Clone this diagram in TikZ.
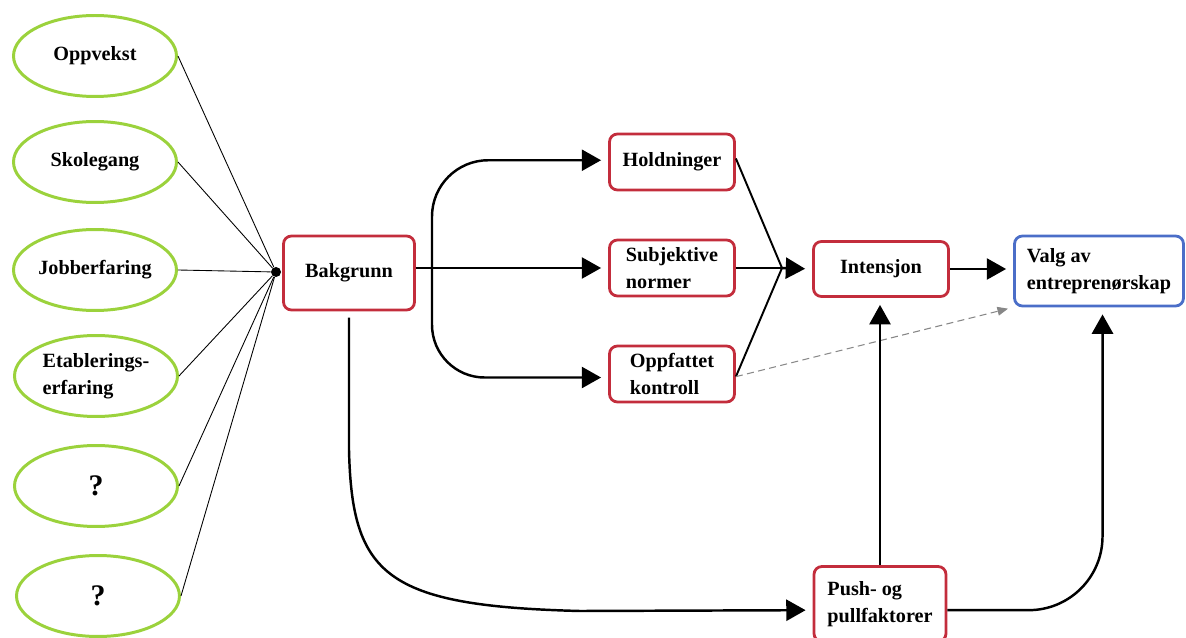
\documentclass[tikz,border=0pt]{standalone}
\usepackage{fontspec}
\setmainfont{Liberation Serif}
\usetikzlibrary{arrows.meta,shapes.geometric}
\definecolor{G}{RGB}{155, 210, 60}
\definecolor{R}{RGB}{195, 45, 60}
\definecolor{B}{RGB}{75, 110, 200}
\definecolor{Gr}{RGB}{135, 135, 135}
\tikzset{
  txt/.style={font=\fontsize{11.5}{15.3}\selectfont\bfseries, align=left},
  faktor/.style={ellipse, draw=G, line width=1.7pt, minimum width=3.26cm, minimum height=1.62cm, inner sep=0pt, txt},
  boks/.style={rectangle, rounded corners=4.5pt, draw=R, line width=1.6pt, inner sep=0pt, txt},
  pil/.style={line width=1.4pt, -{Triangle[length=11pt,width=12pt]}, shorten >=4pt},
  tynn/.style={line width=0.5pt},
  nav/.style={circle, fill=black, inner sep=0pt, minimum size=5.7pt}
}

\begin{document}
\begin{tikzpicture}[x=0.02cm, y=-0.02cm]
  \useasboundingbox (0,0) rectangle (1186,638);
  % bakgrunnsfaktorer
  \node[faktor] (oppv)  at (95,56)  {Oppvekst};
  \node[faktor] (skole) at (95,162) {Skolegang};
  \node[faktor] (jobb)  at (95,270) {Jobberfaring};
  \node[faktor] (etab)  at (96,376) {Etablerings-\\erfaring};
  \node[faktor, font=\fontsize{17}{20}\selectfont\bfseries] (sp1) at (96,486) {?};
  \node[faktor, font=\fontsize{17}{20}\selectfont\bfseries] (sp2) at (98,596) {?};
  \node[nav] (nav) at (276,272) {};
  \foreach \f in {oppv,skole,jobb,etab,sp1,sp2}
    \draw[tynn] (\f.east) -- (nav);

  \node[boks, minimum width=2.62cm, minimum height=1.48cm] (bak) at (349,273) {Bakgrunn};
  \node[boks, minimum width=2.5cm, minimum height=1.12cm] (hold) at (672,162) {Holdninger};
  \node[boks, minimum width=2.5cm, minimum height=1.12cm] (sub)  at (672,268) {Subjektive\\normer};
  \node[boks, minimum width=2.5cm, minimum height=1.12cm] (opp)  at (672,374) {Oppfattet\\kontroll};
  \node[boks, minimum width=2.7cm, minimum height=1.1cm] (int)  at (881,269) {Intensjon};
  \node[boks, draw=B, minimum width=3.38cm, minimum height=1.4cm] (valg) at (1099,271) {Valg av\\entreprenørskap};
  \node[boks, minimum width=2.64cm, minimum height=1.5cm] (push) at (880,604) {Push- og\\pullfaktorer};

  % fra bakgrunn
  \coordinate (gren) at (432,268);
  \draw[pil] (bak.east |- sub.west) -- (sub.west);
  \draw[pil, rounded corners=32pt] (gren) |- ([yshift=1pt]hold.west);
  \draw[pil, rounded corners=30pt] (gren) |- ([yshift=-2pt]opp.west);
  \draw[pil, shorten <=3.5pt] (bak.south) -- (349,450)
    .. controls (352,575) and (385,606) .. (580,611) -- ([yshift=-3.5pt]push.west);

  % mot intensjon
  \coordinate (mote) at (782,268);
  \draw[line width=1.1pt] ([yshift=2pt]hold.east) -- (mote);
  \draw[line width=1.4pt] (sub.east) -- (mote);
  \draw[line width=1.1pt] ([yshift=-1.5pt]opp.east) -- (mote);
  \draw[pil] (mote) -- (int.west);
  \draw[pil] (int.east) -- (int.east -| valg.west);
  \draw[line width=0.6pt, Gr, dash pattern=on 4pt off 2.5pt, -{Triangle[length=6pt,width=5pt]}, shorten >=3pt]
    ([yshift=-1.5pt]opp.east) -- (valg.south west);

  % push og pull
  \draw[pil, line width=1.1pt] (push.north) -- (push.north |- int.south);
  \draw[pil, rounded corners=42pt] ([yshift=-3.5pt]push.east) -| ([xshift=2pt]valg.south);
\end{tikzpicture}
\end{document}
